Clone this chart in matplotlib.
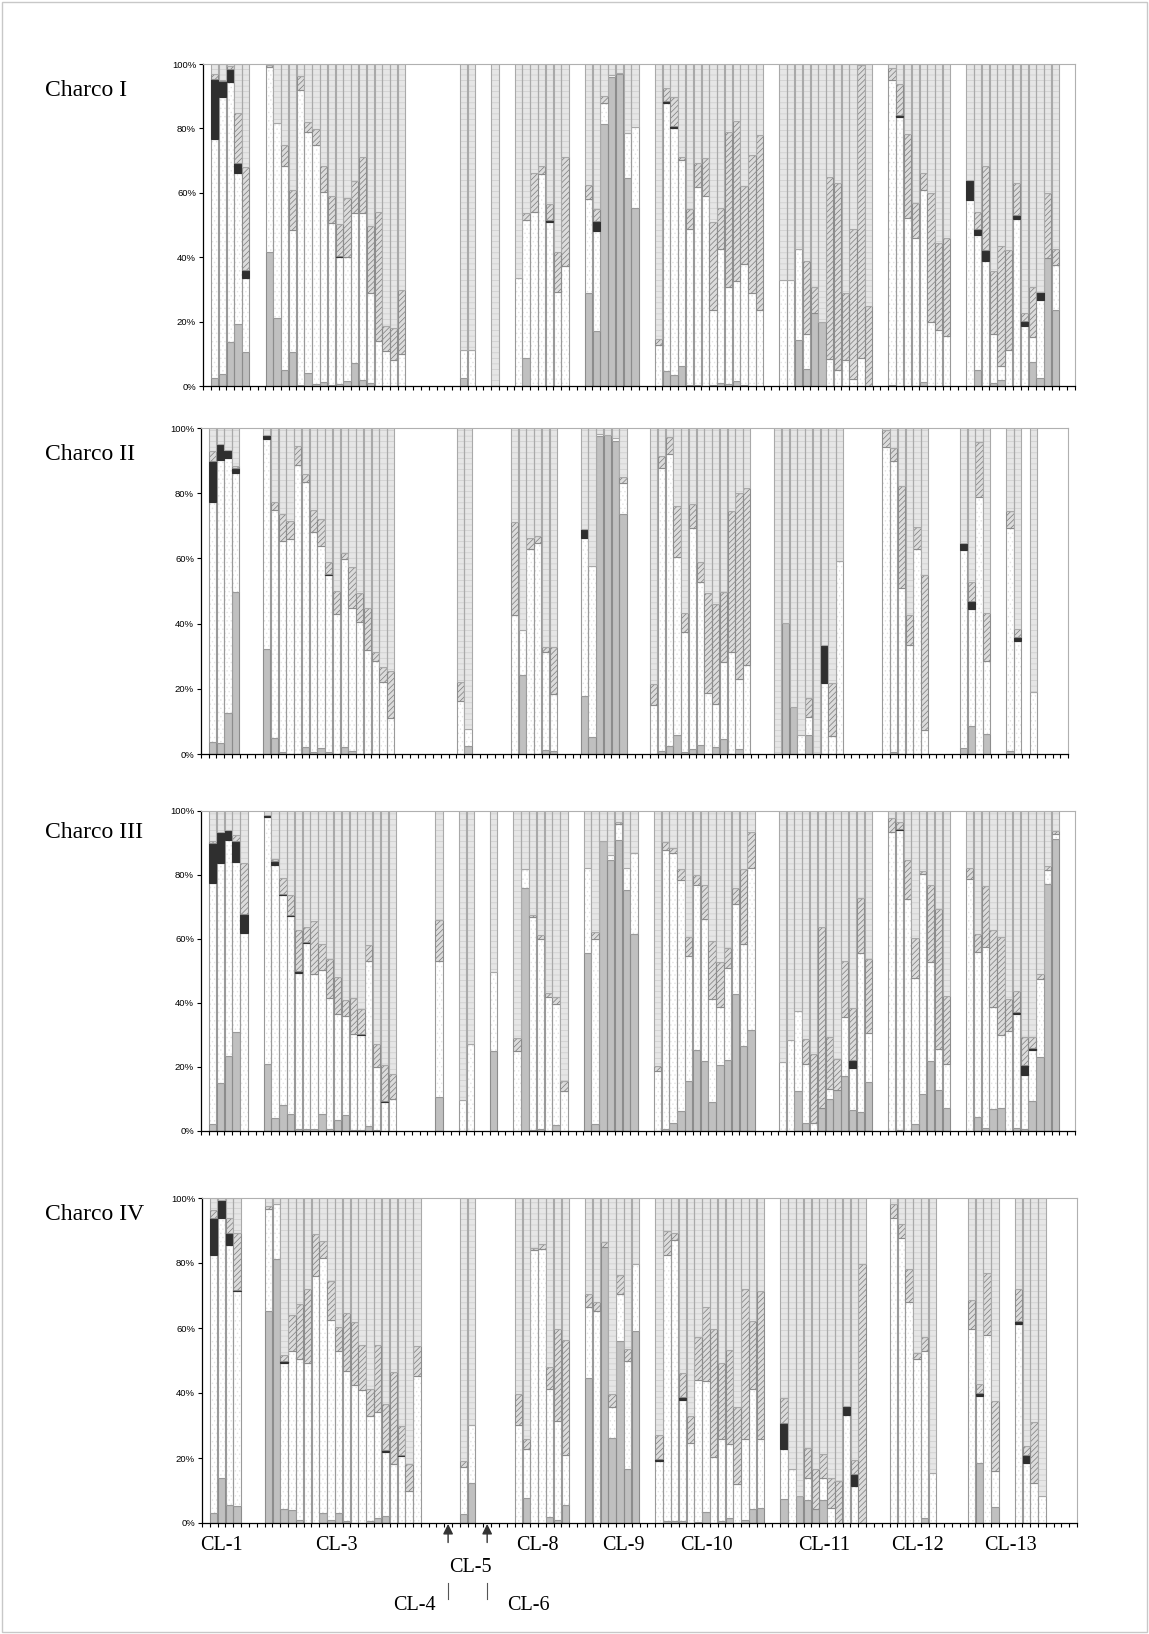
import matplotlib
matplotlib.use("Agg")
import matplotlib.pyplot as plt
import numpy as np
from matplotlib.patches import Rectangle

plt.rcParams["hatch.linewidth"] = 0.5

# ---------------- data (percent of each bar, bottom to top) ----------------
# Charco I
p1_slots = [1, 2, 3, 4, 5, 8, 9, 10, 11, 12, 13, 14, 15, 16, 17, 18, 19, 20, 21, 22, 23, 24, 25,
            33, 34, 37, 40, 41, 42, 43, 44, 45, 46, 49, 50, 51, 52, 53, 54, 55,
            58, 59, 60, 61, 62, 63, 64, 65, 66, 67, 68, 69, 70, 71,
            74, 75, 76, 77, 78, 79, 80, 81, 82, 83, 84, 85, 88, 89, 90, 91, 92, 93, 94, 95,
            98, 99, 100, 101, 102, 103, 104, 105, 106, 107, 108, 109]
p1_gray = [2.5, 3.6, 13.7, 19.4, 10.6, 41.6, 21.2, 5.1, 10.6, 0.3, 4.0, 0.5, 1.1, 0.2, 0.5, 1.4, 7.0, 1.8, 1.0, 0, 0, 0, 0,
           2.5, 0, 0, 0, 8.8, 0, 0, 0, 0, 0, 28.9, 17.0, 81.3, 95.9, 96.8, 64.5, 55.3,
           0, 4.6, 3.3, 6.1, 0.3, 0.4, 0, 0.2, 0.8, 0.6, 1.4, 0.4, 0, 0,
           0, 0, 14.2, 5.2, 22.8, 19.9, 0, 0, 0, 0, 0, 0, 0.2, 0, 0, 0, 1.2, 0, 0, 0,
           0, 5.1, 0, 1.0, 2.0, 0, 0, 0, 7.5, 2.6, 39.6, 23.7]
p1_white = [74.1, 86.2, 80.6, 46.9, 23.0, 57.6, 60.6, 63.3, 37.7, 91.6, 74.8, 74.2, 59.0, 50.3, 39.6, 38.8, 46.8, 52.0, 27.9, 14.1, 10.9, 8.2, 9.8,
            8.6, 11.1, 0, 33.4, 42.9, 53.9, 65.8, 51.0, 29.2, 37.2, 29.3, 31.1, 6.5, 0.7, 0.5, 14.2, 25.2,
            12.6, 83.4, 76.7, 64.1, 48.4, 61.3, 59.0, 23.5, 41.6, 30.2, 31.1, 37.6, 28.9, 23.7,
            33.0, 33.0, 28.4, 11.1, 0, 0, 8.5, 4.9, 8.2, 2.3, 8.8, 0, 94.8, 83.6, 52.2, 46.0, 59.8, 19.8, 17.5, 15.4,
            57.9, 41.9, 38.8, 15.3, 4.1, 11.1, 52.0, 18.7, 7.7, 24.0, 0, 14.0]
p1_black = [18.6, 4.9, 4.3, 3.1, 2.4, 0, 0, 0, 0, 0, 0, 0, 0, 0, 0.4, 0, 0, 0, 0, 0, 0, 0, 0,
            0, 0, 0, 0, 0, 0, 0, 0.5, 0, 0, 0, 3.2, 0, 0, 0, 0, 0,
            0, 0.5, 0.7, 0, 0, 0, 0, 0, 0, 0, 0, 0, 0, 0,
            0, 0, 0, 0, 0, 0, 0, 0, 0, 0, 0, 0, 0, 0.5, 0, 0, 0, 0, 0, 0,
            6.2, 1.9, 3.4, 0, 0, 0, 1.0, 1.5, 0, 2.6, 0, 0]
p1_hatch = [1.7, 0.3, 0.7, 15.3, 32.1, 0.4, 0, 6.3, 12.7, 4.5, 3.1, 5.2, 8.3, 8.6, 9.7, 18.3, 9.9, 17.4, 20.8, 40.0, 7.6, 9.9, 19.9,
            0, 0, 0, 0, 1.9, 12.4, 2.6, 4.9, 12.4, 33.8, 4.2, 3.8, 2.4, 0, 0, 0, 0,
            2.1, 4.1, 8.9, 1.0, 6.4, 7.7, 11.7, 27.3, 12.9, 48.0, 49.8, 24.0, 42.8, 54.3,
            0, 0, 0, 22.4, 7.8, 0, 56.5, 58.0, 20.7, 46.4, 90.9, 24.9, 3.7, 9.6, 26.0, 10.7, 5.2, 40.0, 27.0, 30.7,
            0, 5.2, 26.1, 19.3, 37.4, 31.1, 9.9, 2.6, 15.4, 0, 20.2, 5.0]
p1_light = [3.1, 5.0, 0.7, 15.3, 31.9, 0.4, 18.2, 25.3, 39.0, 3.6, 18.1, 20.1, 31.6, 40.9, 49.8, 41.5, 36.3, 28.8, 50.3, 45.9, 81.5, 81.9, 70.3,
            88.9, 88.9, 100, 66.6, 46.4, 33.7, 31.6, 43.6, 58.4, 29.0, 37.6, 44.9, 9.8, 3.4, 2.7, 21.3, 19.5,
            85.3, 7.4, 10.4, 28.8, 44.9, 30.6, 29.3, 49.0, 44.7, 21.2, 17.7, 38.0, 28.3, 22.0,
            67.0, 67.0, 57.4, 61.3, 69.4, 80.1, 35.0, 37.1, 71.1, 51.3, 0.3, 75.1, 1.3, 6.3, 21.8, 43.3, 33.8, 40.2, 55.5, 53.9,
            35.9, 45.9, 31.7, 64.4, 56.5, 57.8, 37.1, 77.2, 69.4, 70.8, 40.2, 57.3]

# Charco II
p2_slots = [1, 2, 3, 4, 8, 9, 10, 11, 12, 13, 14, 15, 16, 17, 18, 19, 20, 21, 22, 23, 24,
            33, 34, 40, 41, 42, 43, 44, 45, 49, 50, 51, 52, 53, 54,
            58, 59, 60, 61, 62, 63, 64, 65, 66, 67, 68, 69, 70,
            74, 75, 76, 77, 78, 79, 80, 81, 82, 88, 89, 90, 91, 92, 93,
            98, 99, 100, 101, 104, 105, 107]
p2_gray = [3.6, 3.4, 12.6, 49.8, 32.2, 4.9, 0.6, 0, 0, 2.0, 0.6, 1.8, 0.6, 0, 2.2, 1.0, 0, 0, 0, 0, 0,
           0, 2.6, 0, 24.1, 0, 0, 1.3, 1.0, 17.9, 5.2, 97.6, 97.8, 95.9, 73.5,
           0, 0.8, 2.6, 5.7, 0.6, 1.5, 2.9, 0, 2.1, 4.7, 0, 1.4, 0,
           0, 40.1, 14.4, 0, 5.7, 0, 0, 0, 0, 0, 0.6, 0, 0, 0, 0,
           1.8, 8.5, 0, 6.1, 1.0, 0, 0]
p2_white = [73.7, 86.7, 78.3, 36.5, 64.3, 69.9, 64.7, 66.1, 88.8, 81.3, 67.4, 62.0, 54.3, 43.0, 57.6, 43.9, 40.4, 31.9, 28.4, 22.2, 11.0,
            16.4, 5.1, 42.7, 13.8, 62.8, 64.8, 29.9, 17.4, 48.4, 52.6, 0.7, 0, 1.0, 9.5,
            15.1, 86.8, 89.5, 54.6, 36.7, 67.9, 50.0, 18.7, 13.3, 23.5, 31.4, 21.6, 27.3,
            0, 0, 0, 5.7, 5.8, 0, 21.9, 5.4, 59.3, 94.2, 89.2, 50.8, 33.5, 62.8, 7.4,
            60.8, 35.9, 78.7, 22.3, 68.4, 34.7, 19.0]
p2_black = [12.5, 4.9, 2.5, 1.5, 1.3, 0, 0, 0, 0, 0, 0, 0, 0.4, 0, 0, 0, 0, 0, 0, 0, 0,
            0, 0, 0, 0, 0, 0, 0, 0, 2.7, 0, 0, 0, 0, 0,
            0, 0, 0, 0, 0, 0, 0, 0, 0, 0, 0, 0, 0,
            0, 0, 0, 0, 0, 0, 11.4, 0, 0, 0, 0, 0, 0, 0, 0,
            2.2, 2.6, 0, 0, 0, 1.3, 0]
p2_hatch = [3.1, 0, 0, 0.6, 0, 2.5, 8.3, 5.4, 5.7, 2.7, 6.8, 8.2, 3.5, 7.1, 2.0, 12.5, 8.9, 13.0, 2.8, 4.4, 14.6,
            5.6, 0, 28.5, 0, 3.6, 2.1, 1.6, 14.4, 0, 0, 0, 0, 0, 2.0,
            6.3, 3.7, 5.1, 15.8, 5.8, 7.4, 5.9, 30.8, 30.5, 21.6, 43.2, 57.1, 54.4,
            0, 0, 0, 0, 5.8, 0, 0, 16.5, 0, 5.1, 4.1, 31.4, 9.2, 6.9, 47.5,
            0, 5.7, 17.0, 14.7, 5.2, 2.3, 0]
p2_light = [7.1, 5.0, 6.6, 11.6, 2.2, 22.7, 26.4, 28.5, 5.5, 14.0, 25.2, 28.0, 41.2, 49.9, 38.2, 42.6, 50.7, 55.1, 68.8, 73.4, 74.4,
            78.0, 92.3, 28.8, 62.1, 33.6, 33.1, 67.2, 67.2, 31.0, 42.2, 1.7, 2.2, 3.1, 15.0,
            78.6, 8.7, 2.8, 23.9, 56.9, 23.2, 41.2, 50.5, 54.1, 50.2, 25.4, 19.9, 18.3,
            100, 59.9, 85.6, 94.3, 82.7, 100, 66.7, 78.1, 40.7, 0.7, 6.1, 17.8, 57.3, 30.3, 45.1,
            35.2, 47.3, 4.3, 56.9, 25.4, 61.7, 81.0]

# Charco III
p3_slots = [1, 2, 3, 4, 5, 8, 9, 10, 11, 12, 13, 14, 15, 16, 17, 18, 19, 20, 21, 22, 23, 24,
            30, 33, 34, 37, 40, 41, 42, 43, 44, 45, 46, 49, 50, 51, 52, 53, 54, 55,
            58, 59, 60, 61, 62, 63, 64, 65, 66, 67, 68, 69, 70,
            74, 75, 76, 77, 78, 79, 80, 81, 82, 83, 84, 85, 88, 89, 90, 91, 92, 93, 94, 95,
            98, 99, 100, 101, 102, 103, 104, 105, 106, 107, 108, 109]
p3_gray = [2.3, 14.9, 23.3, 30.8, 0, 20.8, 4.0, 8.1, 5.2, 0.7, 0.7, 0.7, 5.2, 0.7, 3.3, 4.9, 0.4, 0.2, 1.6, 0.3, 0, 0,
           10.6, 0, 0, 25.0, 0, 76.0, 0.2, 0.6, 0, 1.9, 0, 55.7, 2.3, 90.6, 84.8, 91.0, 75.2, 61.5,
           0, 0.7, 2.6, 6.2, 15.6, 25.3, 21.9, 9.2, 20.6, 22.2, 42.7, 26.6, 31.6,
           0, 0, 12.4, 2.6, 0, 7.3, 9.9, 12.8, 17.2, 6.6, 6.0, 15.3, 0, 0.3, 0, 2.3, 11.7, 21.9, 12.9, 7.3,
           0, 4.5, 1.0, 6.9, 7.3, 0, 0.8, 0.5, 9.4, 23.1, 77.1, 91.1]
p3_white = [75.3, 68.7, 67.5, 53.3, 62.0, 77.4, 79.0, 65.6, 62.0, 48.8, 57.9, 48.3, 45.1, 40.8, 33.2, 31.0, 30.0, 29.7, 51.5, 19.7, 9.1, 9.9,
            42.5, 9.7, 27.3, 24.8, 25.0, 6.0, 66.8, 59.5, 41.9, 37.9, 12.4, 26.4, 57.6, 0, 1.6, 4.8, 7.0, 25.5,
            18.8, 87.1, 84.2, 72.2, 39.1, 51.6, 44.2, 31.9, 18.1, 28.6, 28.1, 31.7, 50.7,
            21.6, 28.5, 25.1, 18.2, 2.6, 0, 3.1, 0, 18.5, 13.2, 49.5, 15.3, 93.4, 93.7, 72.6, 45.6, 68.5, 30.9, 12.8, 13.5,
            78.6, 51.4, 56.5, 32.0, 22.6, 31.4, 35.7, 17.0, 15.9, 24.3, 4.4, 1.6]
p3_black = [12.3, 9.9, 3.2, 6.5, 5.9, 0.4, 1.4, 0.3, 0.3, 0.4, 0.4, 0, 0, 0, 0, 0, 0, 0.3, 0, 0, 0.3, 0,
            0, 0, 0, 0, 0, 0, 0, 0, 0, 0, 0, 0, 0, 0, 0, 0, 0, 0,
            0, 0, 0, 0, 0, 0, 0, 0, 0, 0, 0, 0, 0,
            0, 0, 0, 0, 0, 0, 0, 0, 0, 2.3, 0, 0, 0, 0.3, 0, 0, 0, 0, 0, 0,
            0, 0, 0, 0, 0, 0, 0.7, 3.0, 0.5, 0, 0, 0]
p3_hatch = [0.7, 0, 0, 1.9, 16.0, 0, 0.5, 5.1, 6.1, 12.9, 4.9, 16.6, 8.2, 12.1, 11.6, 5.1, 11.3, 8.0, 4.9, 7.3, 11.2, 7.8,
            12.7, 0, 0, 0, 4.2, 0, 0.4, 1.0, 1.2, 2.2, 3.1, 0, 2.2, 0, 0, 0.7, 0, 0,
            1.5, 2.4, 1.7, 3.6, 5.9, 3.1, 10.8, 18.3, 14.2, 6.5, 5.2, 23.7, 11.2,
            0, 0, 0, 7.8, 21.6, 56.4, 16.4, 9.6, 17.4, 16.3, 17.4, 23.0, 4.5, 2.3, 12.1, 12.3, 0.9, 24.1, 43.6, 21.4,
            3.7, 5.8, 19.1, 23.8, 30.7, 10.0, 6.7, 8.9, 3.6, 1.6, 1.3, 1.1]
p3_light = [9.4, 6.5, 6.0, 7.5, 16.1, 1.4, 15.1, 20.9, 26.4, 37.2, 36.1, 34.4, 41.5, 46.4, 51.9, 59.0, 58.3, 61.8, 42.0, 72.7, 79.4, 82.3,
            34.2, 90.3, 72.7, 50.2, 70.8, 18.0, 32.6, 38.9, 56.9, 58.0, 84.5, 17.9, 37.9, 9.4, 13.6, 3.5, 17.8, 13.0,
            79.7, 9.8, 11.5, 18.0, 39.4, 20.0, 23.1, 40.6, 47.1, 42.7, 24.0, 18.0, 6.5,
            78.4, 71.5, 62.5, 71.4, 75.8, 36.3, 70.6, 77.6, 46.9, 61.6, 27.1, 46.4, 2.1, 3.4, 15.3, 39.8, 18.9, 23.1, 30.7, 57.8,
            17.7, 38.3, 23.4, 37.3, 39.4, 58.6, 56.1, 70.6, 70.6, 51.0, 17.2, 6.2]

# Charco IV
p4_slots = [1, 2, 3, 4, 8, 9, 10, 11, 12, 13, 14, 15, 16, 17, 18, 19, 20, 21, 22, 23, 24, 25, 26, 27,
            33, 34, 40, 41, 42, 43, 44, 45, 46, 49, 50, 51, 52, 53, 54, 55,
            58, 59, 60, 61, 62, 63, 64, 65, 66, 67, 68, 69, 70, 71,
            74, 75, 76, 77, 78, 79, 80, 81, 82, 83, 84, 88, 89, 90, 91, 92, 93,
            98, 99, 100, 101, 104, 105, 106, 107]
p4_gray = [3.1, 13.8, 5.6, 5.2, 65.1, 81.3, 4.2, 3.9, 1.0, 0, 0, 3.1, 0.8, 3.1, 0.6, 0, 0, 0.6, 1.6, 2.2, 0, 0, 0, 0,
           2.7, 12.4, 0, 7.7, 0, 0, 1.8, 1.0, 5.4, 44.6, 0, 84.9, 26.3, 55.9, 16.7, 59.0,
           0, 0.5, 0.5, 0.5, 0, 0.4, 3.4, 0, 0.5, 1.6, 0, 1.0, 4.2, 4.7,
           7.5, 0, 8.2, 7.0, 4.2, 7.0, 0, 0, 0, 0, 0, 0, 0, 0, 0, 1.5, 0,
           0, 18.5, 0, 4.9, 0, 0, 0, 0]
p4_white = [79.5, 80.2, 79.8, 66.2, 31.4, 17.0, 45.0, 49.0, 49.6, 49.2, 75.9, 78.5, 61.8, 49.8, 46.1, 42.6, 41.0, 32.2, 32.6, 19.6, 18.3, 20.5, 9.8, 45.2,
            14.5, 17.9, 30.1, 15.2, 83.9, 84.4, 39.5, 30.4, 15.6, 21.9, 65.1, 0, 9.4, 14.7, 33.0, 20.6,
            19.0, 82.1, 86.7, 37.5, 24.6, 43.7, 40.3, 20.3, 25.4, 22.6, 12.1, 24.9, 37.1, 21.2,
            15.4, 16.5, 0, 6.9, 0, 6.9, 4.7, 0, 33.3, 11.4, 0, 93.9, 87.8, 68.0, 50.4, 51.4, 15.5,
            59.8, 20.5, 57.7, 11.1, 61.1, 18.5, 12.3, 8.3]
p4_black = [11.4, 5.3, 3.9, 0.4, 0, 0, 0.6, 0, 0, 0, 0, 0, 0, 0, 0, 0, 0, 0, 0, 0.6, 0, 0.4, 0, 0,
            0, 0, 0, 0, 0, 0, 0, 0, 0, 0, 0, 0, 0, 0, 0, 0,
            0.6, 0, 0, 0.8, 0, 0, 0, 0, 0, 0, 0, 0, 0, 0,
            7.9, 0, 0, 0, 0, 0, 0, 0, 2.6, 3.6, 0, 0, 0, 0, 0, 0, 0,
            0, 1.1, 0, 0, 1.0, 2.5, 0, 0]
p4_hatch = [2.4, 0, 4.7, 17.5, 0.9, 0, 2.0, 11.2, 16.9, 22.7, 13.1, 5.2, 11.9, 7.4, 17.9, 19.2, 13.9, 8.5, 20.5, 14.3, 28.2, 8.8, 8.3, 9.3,
            1.9, 0, 9.7, 2.8, 0.7, 1.5, 6.7, 28.4, 35.2, 3.9, 2.9, 1.6, 4.1, 5.8, 3.7, 0,
            7.6, 7.3, 2.0, 7.5, 8.2, 13.1, 22.8, 39.5, 23.3, 29.1, 23.5, 46.0, 20.8, 45.4,
            7.8, 0, 0, 9.1, 12.5, 7.4, 9.2, 12.8, 0, 4.3, 79.8, 4.2, 4.3, 10.3, 2.0, 4.3, 0,
            8.7, 2.6, 19.1, 21.4, 9.8, 2.6, 18.8, 0]
p4_light = [3.6, 0.7, 6.0, 10.7, 2.6, 1.7, 48.2, 35.9, 32.5, 28.1, 11.0, 13.2, 25.5, 39.7, 35.4, 38.2, 45.1, 58.7, 45.3, 63.3, 53.5, 70.3, 81.9, 45.5,
            80.9, 69.7, 60.2, 74.3, 15.4, 14.1, 52.0, 40.2, 43.8, 29.6, 32.0, 13.5, 60.2, 23.6, 46.6, 20.4,
            72.8, 10.1, 10.8, 53.7, 67.2, 42.8, 33.5, 40.2, 50.8, 46.7, 64.4, 28.1, 37.9, 28.7,
            61.4, 83.5, 91.8, 77.0, 83.3, 78.7, 86.1, 87.2, 64.1, 80.7, 20.2, 1.9, 7.9, 21.7, 47.6, 42.8, 84.5,
            31.5, 57.3, 23.2, 62.6, 28.1, 76.4, 68.9, 91.7]

panel_names = ["Charco I", "Charco II", "Charco III", "Charco IV"]
group_labels = ["CL-1", "CL-3", "CL-8", "CL-9", "CL-10", "CL-11", "CL-12", "CL-13"]
group_label_x = [221, 336, 537, 623, 706, 824, 917, 1010]
n_slots = 112

panels = [
    (p1_slots, p1_gray, p1_white, p1_black, p1_hatch, p1_light),
    (p2_slots, p2_gray, p2_white, p2_black, p2_hatch, p2_light),
    (p3_slots, p3_gray, p3_white, p3_black, p3_hatch, p3_light),
    (p4_slots, p4_gray, p4_white, p4_black, p4_hatch, p4_light),
]

# axes boxes in pixels: left, right, top, bottom
boxes = [(203, 1075, 64, 386), (201, 1068, 428, 754), (201, 1075, 811, 1131), (202, 1077, 1198, 1523)]
label_y = [91, 455, 832, 1214]

# fill (face, hatch, hatch colour) and outline colour per segment
fills = [
    ("#c0c0c0", None, "#c0c0c0", "#8c8c8c"),
    ("white", "....", "#e4e4e4", "#9a9a9a"),
    ("#2f2f2f", None, "#2f2f2f", "#2f2f2f"),
    ("#dcdcdc", "//////", "#7c7c7c", "#8c8c8c"),
    ("#e6e6e6", "---", "#cdcdcd", "#a9a9a9"),
]

W, H = 1149, 1634
fig = plt.figure(figsize=(W / 100, H / 100), dpi=100)
fig.patches.append(Rectangle((0.002, 0.001), 0.996, 0.998, transform=fig.transFigure,
                             fill=False, edgecolor="#c8c8c8", linewidth=1))

axes = []
for (slots, *series), (l, r, t, b), name, ly in zip(panels, boxes, panel_names, label_y):
    ax = fig.add_axes([l / W, 1 - b / H, (r - l) / W, (b - t) / H])
    axes.append(ax)
    x = np.array(slots) + 0.5
    bottom = np.zeros(len(slots))
    for vals, (face, hatch, hcol, ecol) in zip(series, fills):
        v = np.array(vals, dtype=float)
        m = v > 0
        ax.bar(x[m], v[m], width=0.94, bottom=bottom[m], color=face,
               hatch=hatch, edgecolor=hcol, linewidth=0)
        ax.bar(x[m], v[m], width=0.94, bottom=bottom[m], fill=False,
               edgecolor=ecol, linewidth=0.8)
        bottom += v
    ax.set_xlim(0, n_slots)
    ax.set_ylim(0, 100)
    ax.set_xticks(np.arange(0, n_slots + 1))
    ax.set_xticklabels([])
    ax.set_yticks([0, 20, 40, 60, 80, 100])
    ax.set_yticklabels(["0%", "20%", "40%", "60%", "80%", "100%"],
                       fontsize=6.8, family=["Liberation Sans", "DejaVu Sans"])
    ax.tick_params(axis="x", direction="out", length=3, width=0.8)
    ax.tick_params(axis="y", direction="out", length=3, width=0.8, pad=2)
    for s in ["top", "right"]:
        ax.spines[s].set_color("#b0b0b0")
    for s in ["left", "bottom"]:
        ax.spines[s].set_color("black")
        ax.spines[s].set_linewidth(0.9)
    fig.text(45 / W, 1 - ly / H, name, fontsize=17, family="Liberation Serif",
             va="center", ha="left")

serif = dict(fontsize=14.5, family="Liberation Serif", ha="center", va="center")
for lab, px in zip(group_labels, group_label_x):
    fig.text(px / W, 1 - 1546 / H, lab, **serif)

# CL-4 / CL-5 / CL-6 markers under the last panel
ax4 = axes[3]
for s in [31, 36]:
    ax4.annotate("", xy=(s + 0.5, -0.3), xytext=(s + 0.5, -6.0),
                 xycoords="data", textcoords="data", annotation_clip=False,
                 arrowprops=dict(arrowstyle="-|>,head_length=0.6,head_width=0.3",
                                 color="#333333", lw=1.0, shrinkA=0, shrinkB=0))
    ax4.plot([s + 0.5, s + 0.5], [-18.5, -23.5], color="#555555", lw=0.8, clip_on=False)
fig.text(470 / W, 1 - 1567 / H, "CL-5", **serif)
fig.text(414 / W, 1 - 1606 / H, "CL-4", **serif)
fig.text(528 / W, 1 - 1606 / H, "CL-6", **serif)

fig.savefig("out.png", dpi=100)
